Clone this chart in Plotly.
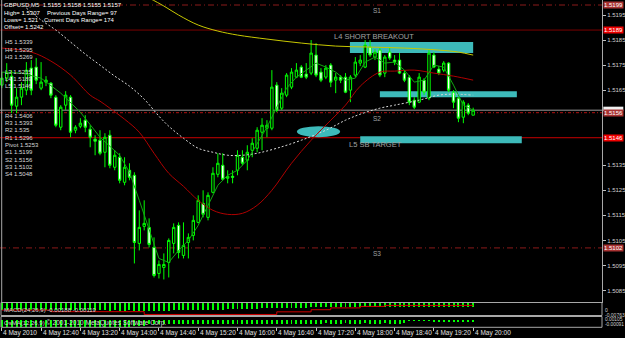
import plotly.graph_objects as go

# ---------------- data (GBPUSD M5, bar 0 = 4 May 12:00) ----------------
opens = [1.51670, 1.51698, 1.51706, 1.51586, 1.51622, 1.51650, 1.51738, 1.51742, 1.51658, 1.51682,
         1.51678, 1.51622, 1.51502, 1.51590, 1.51622, 1.51490, 1.51506, 1.51530, 1.51494, 1.51454,
         1.51450, 1.51402, 1.51470, 1.51342, 1.51382, 1.51282, 1.51330, 1.51310, 1.51038, 1.51106,
         1.51102, 1.51022, 1.50918, 1.50942, 1.50962, 1.51038, 1.51110, 1.50990, 1.51042, 1.51070,
         1.51122, 1.51198, 1.51142, 1.51242, 1.51314, 1.51350, 1.51298, 1.51306, 1.51330, 1.51382,
         1.51370, 1.51410, 1.51418, 1.51482, 1.51498, 1.51498, 1.51670, 1.51578, 1.51630, 1.51662,
         1.51702, 1.51742, 1.51714, 1.51718, 1.51790, 1.51722, 1.51702, 1.51750, 1.51690, 1.51702,
         1.51702, 1.51650, 1.51710, 1.51758, 1.51742, 1.51822, 1.51782, 1.51810, 1.51718, 1.51802,
         1.51770, 1.51770, 1.51718, 1.51702, 1.51610, 1.51602, 1.51690, 1.51618, 1.51790, 1.51734,
         1.51730, 1.51758, 1.51642, 1.51618, 1.51542, 1.51590, 1.51550]
highs = [1.51722, 1.51758, 1.51730, 1.51658, 1.51682, 1.51762, 1.51770, 1.51778, 1.51762, 1.51706,
         1.51682, 1.51630, 1.51590, 1.51646, 1.51630, 1.51510, 1.51538, 1.51550, 1.51510, 1.51470,
         1.51490, 1.51478, 1.51490, 1.51410, 1.51398, 1.51382, 1.51358, 1.51322, 1.51170, 1.51210,
         1.51138, 1.51062, 1.50970, 1.50998, 1.51058, 1.51118, 1.51122, 1.51122, 1.51078, 1.51150,
         1.51230, 1.51250, 1.51242, 1.51342, 1.51398, 1.51398, 1.51330, 1.51330, 1.51410, 1.51410,
         1.51430, 1.51458, 1.51502, 1.51538, 1.51530, 1.51730, 1.51682, 1.51658, 1.51718, 1.51738,
         1.51758, 1.51750, 1.51758, 1.51850, 1.51838, 1.51738, 1.51750, 1.51758, 1.51718, 1.51710,
         1.51718, 1.51710, 1.51782, 1.51790, 1.51850, 1.51850, 1.51814, 1.51818, 1.51790, 1.51818,
         1.51790, 1.51798, 1.51730, 1.51710, 1.51622, 1.51718, 1.51698, 1.51810, 1.51802, 1.51746,
         1.51766, 1.51762, 1.51650, 1.51622, 1.51610, 1.51598, 1.51580]
lows = [1.51658, 1.51682, 1.51558, 1.51558, 1.51590, 1.51630, 1.51630, 1.51674, 1.51650, 1.51666,
        1.51618, 1.51502, 1.51490, 1.51570, 1.51462, 1.51478, 1.51498, 1.51482, 1.51422, 1.51390,
        1.51390, 1.51342, 1.51338, 1.51330, 1.51278, 1.51270, 1.51290, 1.50958, 1.51010, 1.51090,
        1.51022, 1.50902, 1.50898, 1.50894, 1.50902, 1.50998, 1.50978, 1.50978, 1.50978, 1.51050,
        1.51118, 1.51142, 1.51130, 1.51238, 1.51302, 1.51290, 1.51278, 1.51278, 1.51310, 1.51350,
        1.51330, 1.51382, 1.51402, 1.51410, 1.51462, 1.51490, 1.51562, 1.51570, 1.51622, 1.51654,
        1.51698, 1.51698, 1.51694, 1.51710, 1.51702, 1.51682, 1.51694, 1.51662, 1.51638, 1.51678,
        1.51638, 1.51602, 1.51702, 1.51746, 1.51738, 1.51782, 1.51770, 1.51702, 1.51702, 1.51770,
        1.51750, 1.51714, 1.51682, 1.51590, 1.51574, 1.51598, 1.51630, 1.51610, 1.51738, 1.51710,
        1.51722, 1.51642, 1.51578, 1.51522, 1.51518, 1.51550, 1.51550]
closes = [1.51698, 1.51722, 1.51590, 1.51622, 1.51658, 1.51730, 1.51650, 1.51690, 1.51682, 1.51690,
          1.51630, 1.51510, 1.51582, 1.51630, 1.51482, 1.51502, 1.51518, 1.51502, 1.51462, 1.51446,
          1.51398, 1.51462, 1.51350, 1.51390, 1.51290, 1.51342, 1.51302, 1.51042, 1.51102, 1.51118,
          1.51034, 1.50910, 1.50954, 1.50954, 1.51050, 1.51102, 1.51002, 1.51030, 1.51062, 1.51130,
          1.51210, 1.51154, 1.51230, 1.51318, 1.51358, 1.51294, 1.51306, 1.51302, 1.51390, 1.51358,
          1.51402, 1.51438, 1.51490, 1.51510, 1.51510, 1.51662, 1.51570, 1.51638, 1.51710, 1.51722,
          1.51730, 1.51702, 1.51702, 1.51798, 1.51710, 1.51690, 1.51738, 1.51682, 1.51702, 1.51690,
          1.51642, 1.51702, 1.51762, 1.51770, 1.51830, 1.51790, 1.51802, 1.51710, 1.51782, 1.51778,
          1.51762, 1.51718, 1.51690, 1.51602, 1.51582, 1.51702, 1.51642, 1.51798, 1.51742, 1.51718,
          1.51758, 1.51650, 1.51602, 1.51538, 1.51602, 1.51558, 1.51570]

# moving averages (bar index, price)
ma_green_idx = [0, 4, 8, 12, 16, 20, 24, 26, 28, 30, 32, 34, 36, 38, 40, 42, 44, 46, 48, 50, 52, 54,
                56, 58, 60, 62, 64, 66, 68, 70, 72, 74, 76, 78, 80, 82, 84, 86, 88, 90, 92, 94, 96]
ma_green = [1.51722, 1.51718, 1.51698, 1.51638, 1.51562, 1.51462, 1.51390, 1.51322, 1.51210, 1.51090,
            1.50978, 1.50962, 1.51010, 1.51050, 1.51110, 1.51190, 1.51270, 1.51310, 1.51330, 1.51370,
            1.51438, 1.51502, 1.51582, 1.51658, 1.51702, 1.51730, 1.51758, 1.51742, 1.51722, 1.51690,
            1.51698, 1.51762, 1.51782, 1.51758, 1.51762, 1.51730, 1.51682, 1.51690, 1.51750, 1.51742,
            1.51670, 1.51590, 1.51570]
ma_red_idx = [0, 6, 10, 14, 18, 20, 22, 25, 28, 31, 34, 37, 40, 43, 46, 49, 52, 55, 59, 63, 67, 70,
              73, 77, 80, 84, 88, 92, 96]
ma_red = [1.51818, 1.51802, 1.51766, 1.51710, 1.51630, 1.51606, 1.51578, 1.51534, 1.51482, 1.51398,
          1.51318, 1.51266, 1.51210, 1.51170, 1.51154, 1.51158, 1.51190, 1.51250, 1.51358, 1.51450,
          1.51530, 1.51590, 1.51666, 1.51722, 1.51726, 1.51730, 1.51718, 1.51706, 1.51690]
ma_dot_idx = [5, 8, 11, 14, 17, 20, 23, 26, 29, 32, 34, 37, 40, 43, 46, 49, 52, 56, 61, 66, 70, 73,
              77, 80, 85, 89, 92, 96]
ma_dot = [1.51978, 1.51930, 1.51890, 1.51842, 1.51794, 1.51750, 1.51706, 1.51666, 1.51614, 1.51546,
          1.51506, 1.51458, 1.51418, 1.51402, 1.51390, 1.51390, 1.51398, 1.51418, 1.51450, 1.51490,
          1.51530, 1.51554, 1.51578, 1.51590, 1.51610, 1.51630, 1.51634, 1.51630]
ma_yel_idx = [30, 33, 36, 40, 44, 48, 54, 61, 68, 75, 82, 89, 93, 96]
ma_yel = [1.52018, 1.51986, 1.51950, 1.51910, 1.51886, 1.51870, 1.51854, 1.51838, 1.51826, 1.51822,
          1.51818, 1.51810, 1.51802, 1.51790]

macd_hist = [-0.0040, -0.0041, -0.0040, -0.0041, -0.0040, -0.0039, -0.0040, -0.0040, -0.0041, -0.0040,
             -0.0041, -0.0042, -0.0041, -0.0041, -0.0042, -0.0042, -0.0041, -0.0042, -0.0042, -0.0041,
             -0.0042, -0.0042, -0.0043, -0.0042, -0.0043, -0.0043, -0.0042, -0.0044, -0.0043, -0.0043,
             -0.0044, -0.0044, -0.0044, -0.0043, -0.0043, -0.0042, -0.0042, -0.0041, -0.0041, -0.0040,
             -0.0040, -0.0039, -0.0039, -0.0038, -0.0037, -0.0037, -0.0036, -0.0035, -0.0034, -0.0034,
             -0.0033, -0.0032, -0.0031, -0.0030, -0.0030, -0.0028, -0.0027, -0.0027, -0.0026, -0.0026,
             -0.0025, -0.0025, -0.0025, -0.0024, -0.0024, -0.0024, -0.0024, -0.0024, -0.0024, -0.0023,
             -0.0023, -0.0024, -0.0023, -0.0023, -0.0022, -0.0022, -0.0023, -0.0023, -0.0022, -0.0023,
             -0.0023, -0.0023, -0.0023, -0.0024, -0.0024, -0.0023, -0.0024, -0.0022, -0.0022, -0.0023,
             -0.0022, -0.0022, -0.0023, -0.0023, -0.0023, -0.0022, -0.0022]
macd_sig_idx = [0, 10, 29, 56, 63, 67, 73, 78, 96]
macd_sig = [-0.0043, -0.0053, -0.0070, -0.0054, -0.0041, -0.0030, -0.0021, -0.0015, -0.0015]
osma = [-0.00085, -0.00088, -0.00086, -0.00085, -0.00084, -0.00086, -0.00087, -0.00085, -0.00086, -0.00088,
        -0.00087, -0.00086, -0.00085, -0.00086, -0.00087, -0.00088, -0.00087, -0.00086, -0.00085, -0.00086,
        -0.00087, -0.00086, -0.00085, -0.00084, -0.00085, -0.00086, -0.00084, -0.00083, -0.00082, -0.00080,
        -0.00055, -0.00050, -0.00052, -0.00050, -0.00048, -0.00050, -0.00052, -0.00050, -0.00049, -0.00050,
        -0.00051, -0.00050, -0.00048, -0.00050, -0.00052, -0.00050, -0.00049, -0.00050, -0.00051, -0.00050,
        -0.00048, -0.00050, -0.00052, -0.00050, -0.00049, -0.00050, -0.00051, -0.00050, -0.00048, -0.00050,
        -0.00050, -0.00049, -0.00050, -0.00045, -0.00046, -0.00045, -0.00044, -0.00045, -0.00046, -0.00045,
        -0.00044, -0.00045, -0.00046, -0.00045, -0.00044, -0.00045, -0.00046, -0.00045, -0.00044, -0.00045,
        -0.00046, -0.00045, -0.00044, -0.00005, -0.00005, -0.00005, -0.00005, -0.00005, -0.00020, -0.00020,
        -0.00020, -0.00020, -0.00020, -0.00020, -0.00020, -0.00020, -0.00020]

time_tick_idx = [0, 8, 16, 24, 32, 40, 48, 56, 64, 72, 80, 88, 96]
time_tick_labels = ["4 May 2010", "4 May 12:40", "4 May 13:20", "4 May 14:00", "4 May 14:40",
                    "4 May 15:20", "4 May 16:00", "4 May 16:40", "4 May 17:20", "4 May 18:00",
                    "4 May 18:40", "4 May 19:20", "4 May 20:00"]
# 1.5155 and 1.5145 are hidden behind the coloured level labels in the original
price_ticks = [1.5195, 1.5185, 1.5175, 1.5165, 1.5135, 1.5125, 1.5115, 1.5105, 1.5095, 1.5085]

level_names = ["S1", "L4", "S2", "L5", "S3"]
level_prices = [1.5199, 1.5189, 1.5156, 1.5146, 1.5102]
level_texts = ["S1", "L4 SHORT BREAKOUT", "S2", "L5 SB TARGET", "S3"]

info_lines = ["High= 1.5307", "Lows= 1.521", "Offset= 1.5242"]
info_right = ["Previous Days Range= 97", "Current Days Range= 174"]
camarilla = ["H5 1.5339", "H4 1.5295", "H3 1.5269", "L3 1.5215", "L4 1.5189", "L5 1.5146"]
pivots = ["R4 1.5406", "R3 1.5393", "R2 1.535", "R1 1.5296", "Pivot 1.5253",
          "S1 1.5199", "S2 1.5156", "S3 1.5102", "S4 1.5048"]
macd_label = "MACD(24,26,9) -0.00188 -0.00119"
osma_label = "OsMA(12,26,9)"
copyright_label = "\u00a9 2001-2010 MetaQuotes Software Corp."
macd_scale = ["0", "-0.00763"]
osma_scale = ["0.00105", "-0.00091"]

# ---------------- layout helpers ----------------
W, H = 625, 338
RIGHT = 602.0
FONT = "Liberation Sans, Arial, sans-serif"
def py(p):
    return 1 - p / H
def pxp(p):
    return p / W

bars = list(range(len(closes)))
fig = go.Figure()

fig.add_trace(go.Candlestick(
    x=bars, open=opens, high=highs, low=lows, close=closes,
    increasing=dict(line=dict(color="#00ff00", width=1), fillcolor="#000000"),
    decreasing=dict(line=dict(color="#00ff00", width=1), fillcolor="#ffffff"),
    whiskerwidth=0, showlegend=False, hoverinfo="skip", xaxis="x", yaxis="y"))

fig.add_trace(go.Scatter(x=ma_yel_idx, y=ma_yel, mode="lines", line=dict(color="#c8c800", width=1, shape="spline"),
                         showlegend=False, hoverinfo="skip"))
fig.add_trace(go.Scatter(x=ma_dot_idx, y=ma_dot, mode="lines",
                         line=dict(color="#d8d8d8", width=1, dash="2px,2px", shape="spline"),
                         showlegend=False, hoverinfo="skip"))
fig.add_trace(go.Scatter(x=ma_red_idx, y=ma_red, mode="lines", line=dict(color="#b00000", width=1, shape="spline"),
                         showlegend=False, hoverinfo="skip"))
fig.add_trace(go.Scatter(x=ma_green_idx, y=ma_green, mode="lines", line=dict(color="#12a812", width=1),
                         showlegend=False, hoverinfo="skip"))

fig.add_trace(go.Bar(x=bars, y=macd_hist, marker=dict(color="#00ff00", line=dict(width=0)), width=0.2,
                     xaxis="x", yaxis="y2", showlegend=False, hoverinfo="skip"))
fig.add_trace(go.Scatter(x=macd_sig_idx, y=macd_sig, mode="lines", line=dict(color="#d00000", width=1, shape="hv"),
                         xaxis="x", yaxis="y2", showlegend=False, hoverinfo="skip"))
fig.add_trace(go.Bar(x=bars, y=osma, marker=dict(color="#00ff00", line=dict(width=0)), width=0.2,
                     xaxis="x", yaxis="y3", showlegend=False, hoverinfo="skip"))

shapes = []
# cyan zones
zone_fill = "#3dbaba"
shapes.append(dict(type="rect", xref="x", yref="y", x0=70.9, x1=96.0, y0=1.51798, y1=1.51842,
                   fillcolor=zone_fill, line=dict(width=0), layer="below"))
shapes.append(dict(type="rect", xref="x", yref="y", x0=77.0, x1=104.9, y0=1.51622, y1=1.51646,
                   fillcolor=zone_fill, line=dict(width=0), layer="below"))
shapes.append(dict(type="rect", xref="x", yref="y", x0=73.0, x1=105.9, y0=1.51438, y1=1.51466,
                   fillcolor=zone_fill, line=dict(width=0), layer="below"))
shapes.append(dict(type="circle", xref="x", yref="y", x0=60.1, x1=68.9, y0=1.51462, y1=1.51506,
                   fillcolor=zone_fill, line=dict(width=0), layer="below"))

level_line_styles = {
    "S1": dict(color="#8b1a1a", width=1, dash="6px,3px,1px,3px"),
    "L4": dict(color="#7a0000", width=1),
    "S2": dict(color="#b01010", width=1, dash="3px,2px,1px,2px"),
    "L5": dict(color="#c80000", width=1),
    "S3": dict(color="#8b1a1a", width=1, dash="6px,3px,1px,3px"),
}
level_label_bg = {"S1": "#a83232", "L4": "#ee0000", "S2": "#a83232", "L5": "#ee0000", "S3": "#a83232"}

# bid line
shapes.append(dict(type="line", xref="paper", yref="y", x0=0, x1=pxp(RIGHT), y0=closes[-1], y1=closes[-1],
                   line=dict(color="#9a9a9a", width=1), layer="below"))
for nm, pr in zip(level_names, level_prices):
    shapes.append(dict(type="line", xref="paper", yref="y", x0=0, x1=pxp(RIGHT), y0=pr, y1=pr,
                       line=level_line_styles[nm], layer="below"))

# bid price tag on the scale (mostly hidden under the S2 tag in the original)
shapes.append(dict(type="rect", xref="paper", yref="y", x0=pxp(603.3), x1=pxp(623.3),
                   y0=closes[-1] - 0.00004, y1=closes[-1] + 0.00014,
                   fillcolor="#f0f0f0", line=dict(width=0)))

# frames
frame = "#a8a8a8"
shapes.append(dict(type="line", xref="paper", yref="paper", x0=pxp(1.7), x1=pxp(1.7), y0=py(302.5), y1=1.0,
                   line=dict(color=frame, width=1)))
shapes.append(dict(type="rect", xref="paper", yref="paper", x0=pxp(1.0), x1=pxp(RIGHT), y0=py(315.5), y1=py(302.5),
                   line=dict(color=frame, width=1)))
shapes.append(dict(type="rect", xref="paper", yref="paper", x0=pxp(1.0), x1=pxp(RIGHT), y0=py(327.3), y1=py(316.5),
                   line=dict(color=frame, width=1)))

ann = []
def text(x, y, s, size=6, color="#e8e8e8", xref="paper", yref="paper", xanchor="left", yanchor="middle", **kw):
    ann.append(dict(x=x, y=y, xref=xref, yref=yref, text=s, showarrow=False, xanchor=xanchor, yanchor=yanchor,
                    font=dict(family=FONT, size=size, color=color), borderpad=0, **kw))

# header info
header = "GBPUSD,M5  %.4f %.4f %.4f %.4f" % (opens[-1], highs[-1], lows[-1], closes[-1])
text(pxp(3), py(5), header, color="#ffffff")
text(pxp(3), py(12.7), info_lines[0], color="#ffffff")
text(pxp(46), py(12.7), info_right[0], color="#ffffff")
text(pxp(3), py(20), info_lines[1], color="#ffffff")
text(pxp(43), py(20), info_right[1], color="#ffffff")
text(pxp(3), py(26.7), info_lines[2], color="#ffffff")

cam_y = [42.3, 49.7, 56.9, 71.7, 79.0, 86.2]
for s, yy in zip(camarilla, cam_y):
    text(pxp(4), py(yy), s, color="#d8d8d8")
for k, s in enumerate(pivots):
    text(pxp(4), py(115.8 + 7.32 * k), s, color="#d8d8d8")

# level descriptions on chart
level_text_x = {"S1": 75.4, "L4": 67.5, "S2": 75.4, "L5": 70.5, "S3": 75.4}
for nm, pr, s in zip(level_names, level_prices, level_texts):
    sz = 7.5 if len(s) > 2 else 6.5
    text(level_text_x[nm], pr, s, size=sz, color="#a0a0a0", xref="x", yref="y", yanchor="top", yshift=-1)

# right axis coloured price labels
for nm, pr in zip(level_names, level_prices):
    text(pxp(613.3), pr, "%.4f" % pr, size=6, color="#ffffff", yref="y", xanchor="center",
         bgcolor=level_label_bg[nm])

# sub window labels
text(pxp(3), py(310), macd_label, color="#d8d8d8")
text(pxp(3), py(322.7), osma_label, color="#d8d8d8")
text(pxp(45), py(322.7), copyright_label, size=6.5, color="#d8d8d8")
text(pxp(603.5), py(310.3), macd_scale[0], size=5, color="#d0d0d0")
text(pxp(603.5), py(314.6), macd_scale[1], size=5, color="#d0d0d0")
text(pxp(603.5), py(319.6), osma_scale[0], size=4.8, color="#d0d0d0")
text(pxp(603.5), py(324.6), osma_scale[1], size=4.8, color="#d0d0d0")

# time labels
for ti, tl in zip(time_tick_idx, time_tick_labels):
    text(ti, py(332.8), tl, size=6.5, color="#e0e0e0", xref="x", xshift=0.5)

fig.update_layout(
    width=W, height=H, margin=dict(l=0, r=0, t=0, b=0),
    paper_bgcolor="#000000", plot_bgcolor="#000000",
    showlegend=False, bargap=0, shapes=shapes, annotations=ann,
    xaxis=dict(domain=[0, pxp(RIGHT)], range=[-0.37, 122.24], anchor="y3", showgrid=False, zeroline=False,
               showline=False, tickvals=time_tick_idx, ticks="outside", ticklen=3, tickcolor="#c0c0c0",
               showticklabels=False, rangeslider=dict(visible=False), fixedrange=True),
    yaxis=dict(domain=[py(302.5), 1], range=[1.50802, 1.5201], side="right", anchor="x", showgrid=False,
               zeroline=False, showline=True, linecolor=frame, linewidth=1,
               tickvals=price_ticks, ticktext=["%.4f" % v for v in price_ticks],
               ticks="outside", ticklen=3, tickcolor="#c0c0c0",
               tickfont=dict(family=FONT, size=6, color="#d0d0d0")),
    yaxis2=dict(domain=[py(315.5), py(302.5)], range=[-0.00763, 0.0003], showgrid=False, zeroline=False,
                showticklabels=False, anchor="x"),
    yaxis3=dict(domain=[py(327.3), py(316.5)], range=[-0.0010, 0.0004], showgrid=False, zeroline=False,
                showticklabels=False, anchor="x"),
)

fig.write_html("out.html")
